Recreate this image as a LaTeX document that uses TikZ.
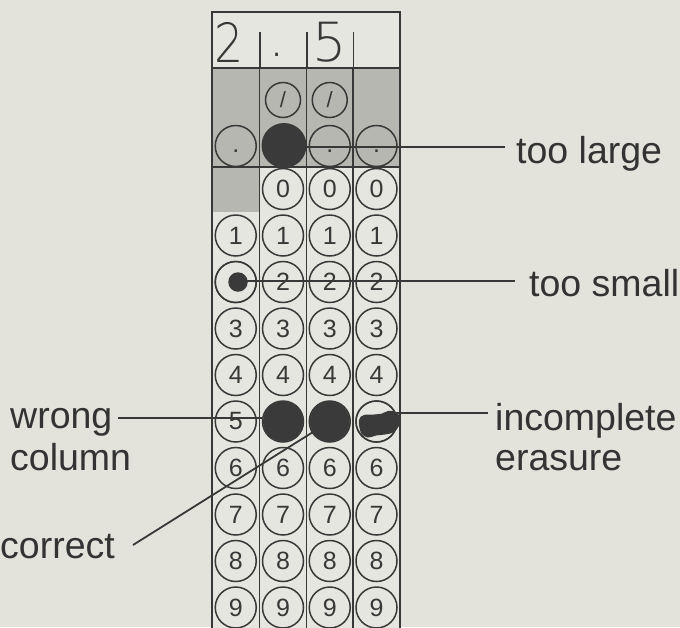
\documentclass[tikz,border=0pt]{standalone}
\usepackage{fontspec}
\setmainfont{Liberation Sans}
\newfontfamily\handfont{DejaVu Sans ExtraLight}
\begin{document}
\begin{tikzpicture}[x=1pt,y=-1pt,
  gridline/.style={draw=ink,line width=1.8pt},
  bub/.style={circle,draw=ink,line width=1.5pt,minimum size=41pt,inner sep=0pt,
    font=\fontsize{25}{25}\selectfont,text=ink},
  sbub/.style={bub,minimum size=35pt,font=\fontsize{22}{22}\selectfont},
  filled/.style={circle,fill=markc,minimum size=40pt,inner sep=0pt},
  lbl/.style={font=\fontsize{37.5}{41}\selectfont,text=txt,inner sep=0pt},
  hd/.style={font=\handfont\fontsize{54}{54}\selectfont,text=ink,inner sep=0pt},
  conn/.style={draw=ink,line width=1.8pt}]
\definecolor{paper}{HTML}{E3E3DB}
\definecolor{gridbg}{HTML}{E6E6E0}
\definecolor{band}{HTML}{B7B7B1}
\definecolor{ink}{HTML}{383838}
\definecolor{txt}{HTML}{333333}
\definecolor{markc}{HTML}{3A3A3A}
\useasboundingbox (0,0) rectangle (680,627);
\clip (0,0) rectangle (680,627);
\fill[paper] (0,0) rectangle (680,627);
% grid background and shaded bands
\fill[gridbg] (212,12) rectangle (400,650);
\fill[band] (212,68) rectangle (400,167);
\fill[band] (212,167) rectangle (259.5,212);
% grid lines
\draw[gridline] (212,12) rectangle (400,650);
\draw[gridline] (212,68) -- (400,68);
\draw[gridline] (212,167) -- (400,167);
\foreach \x in {259.5,306.5,353} {
  \draw[gridline] (\x,68) -- (\x,650);
  \draw[draw=ink,line width=1.4pt] (\x+0.5,32) -- (\x+0.5,68);
}
% header entries
\node[hd,xscale=0.85] (h1) at (229.5,42.5) {2};
\node[hd] (h2) at (277,55) {.};
\node[hd] (h3) at (329.5,42.5) {5};
% slash row
\node[sbub] (s2) at (283,100) {/};
\node[sbub] (s3) at (329.75,100) {/};
% dot row
\node[bub] (d1) at (235.75,146) {\vphantom{x}.};
\node[bub] (d3) at (329.75,146) {\vphantom{x}.};
\node[bub] (d4) at (376.5,146) {\vphantom{x}.};
\node[filled,minimum size=45pt] (big) at (284,145.5) {};
% zero row
\foreach \c/\x in {2/283,3/329.75,4/376.5}
  \node[bub] (b\c-0) at (\x,189) {0};
% digits 1..9
\foreach \r in {1,...,9} {
  \foreach \c/\x in {1/235.75,2/283,3/329.75,4/376.5} {
    \pgfmathsetmacro{\yy}{189+46.5*\r}
    \node[bub] (b\c-\r) at (\x,\yy) {\r};
  }
}
% marks
\node[circle,fill=gridbg,minimum size=39pt,inner sep=0pt] at (b1-2) {};
\node[bub] (tsc) at (b1-2) {};
\node[filled,minimum size=19.5pt] (small) at (238,282) {};
\node[filled] (wm) at (b2-5) {};
\node[filled] (cm) at (b3-5) {};
\node[circle,fill=gridbg,minimum size=39pt,inner sep=0pt] at (b4-5) {};
\node[bub] (ie) at (b4-5) {};
\fill[markc] plot[smooth cycle,tension=0.6] coordinates {
  (359,420) (364,415) (374,414.5) (382,413.5) (388,411) (395,411.5)
  (400,417) (399,426) (393,432.5) (385,434.5) (376,435.5) (368,437.5) (361,433)};
% labels
\node[lbl,anchor=base west] (tl) at (516,163) {too large};
\node[lbl,anchor=base west] (ts) at (529,296) {too small};
\node[lbl,anchor=base west] (w1) at (10,428) {wrong};
\node[lbl,anchor=base west] (w2) at (10,470) {column};
\node[lbl,anchor=base west] (i1) at (495,430) {incomplete};
\node[lbl,anchor=base west] (i2) at (495,470) {erasure};
\node[lbl,anchor=base west] (co) at (0,558) {correct};
% connectors
\coordinate (tlend) at (505,147);
\draw[conn] (big.east |- tlend) -- (tlend);
\coordinate (tsend) at (515,281);
\draw[conn] (small.center |- tsend) -- (tsend);
\coordinate (wcstart) at (118,418);
\draw[conn] (wcstart) -- (wcstart -| wm.west);
\coordinate (ieend) at (488,413);
\draw[conn] (ie.25 |- ieend) -- (ieend);
\coordinate (cstart) at (133,545);
\draw[conn] (cstart) -- (cm);
\end{tikzpicture}
\end{document}
